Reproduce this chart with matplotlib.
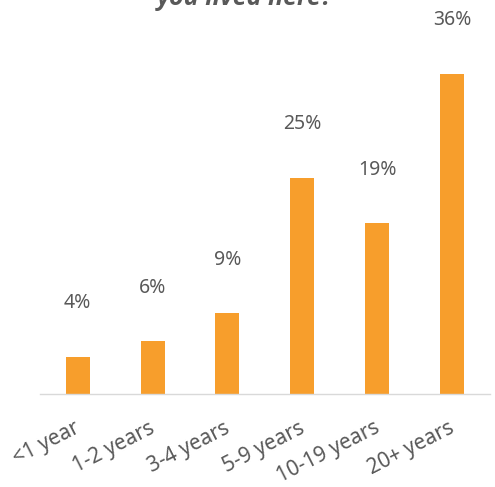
import matplotlib.pyplot as plt
import matplotlib.transforms as mtransforms

categories = ['<1 year', '1-2 years', '3-4 years', '5-9 years', '10-19 years', '20+ years']
values = [4.2, 5.9, 9.1, 24.3, 19.2, 36]
labels = ['4%', '6%', '9%', '25%', '19%', '36%']

plt.rcParams['font.family'] = ['Noto Sans', 'DejaVu Sans']

fig = plt.figure(figsize=(4.95, 4.87), dpi=100)
ax = fig.add_axes([40 / 495, 93 / 487, 450 / 495, 356 / 487])

x = list(range(len(categories)))
ax.bar(x, values, width=0.32, color='#F79E2C', zorder=2)
ax.set_xlim(-0.5, 5.5)
ax.set_ylim(0, 40)

for xi, v, lab in zip(x, values, labels):
    ax.annotate(lab, (xi, v), xytext=(0, 38.5), textcoords='offset points',
                ha='center', va='center', fontsize=14, color='#595959')

ax.set_xticks(x)
ax.set_xticklabels(categories, rotation=27, ha='right', rotation_mode='anchor',
                   fontsize=15, color='#595959')
ax.tick_params(axis='x', length=0, pad=17)
shift = mtransforms.ScaledTranslation(-4 / 100, 0, fig.dpi_scale_trans)
for t in ax.get_xticklabels():
    t.set_transform(t.get_transform() + shift)
ax.set_yticks([])
for s in ['top', 'right', 'left']:
    ax.spines[s].set_visible(False)
ax.spines['bottom'].set_color('#D9D9D9')
ax.spines['bottom'].set_linewidth(1)

fig.text(0.495, 1.0 - 5 / 487, 'you lived here?', ha='center', va='baseline',
         fontsize=18, fontweight='bold', fontstyle='italic', color='#595959',
         family=['Open Sans', 'DejaVu Sans'])

fig.savefig('out.png', dpi=100)
